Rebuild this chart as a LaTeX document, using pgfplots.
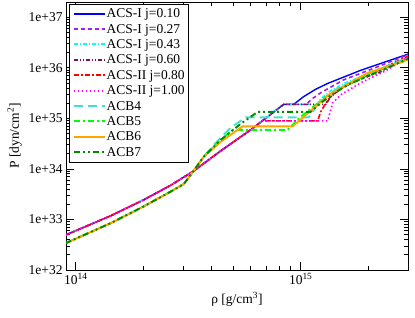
\documentclass[border=0pt]{standalone}
\usepackage{pgfplots}
\pgfplotsset{compat=1.18}
\usepackage{fontspec}
\setmainfont{Liberation Serif}
\definecolor{cBlue}{RGB}{0,0,255}
\definecolor{cViolet}{RGB}{160,32,240}
\definecolor{cCyan}{RGB}{0,255,255}
\definecolor{cMaroon}{RGB}{128,16,90}
\definecolor{cRed}{RGB}{255,0,0}
\definecolor{cMagenta}{RGB}{255,0,255}
\definecolor{cTurq}{RGB}{64,224,208}
\definecolor{cGreen}{RGB}{0,255,0}
\definecolor{cOrange}{RGB}{255,165,0}
\definecolor{cGreenFour}{RGB}{0,139,0}
\begin{document}
\begin{tikzpicture}
\begin{axis}[name=ax,
  xmode=log, ymode=log,
  scale only axis, width=342pt, height=268pt,
  xmin=9.05e13, xmax=3.0e15, ymin=1e32, ymax=2e37,
  xtick={1e14,1e15}, xticklabels={10\textsuperscript{14},10\textsuperscript{15}},
  ytick={1e32,1e33,1e34,1e35,1e36,1e37},
  yticklabels={1e+32,1e+33,1e+34,1e+35,1e+36,1e+37},
  minor xtick={2e14,3e14,4e14,5e14,6e14,7e14,8e14,9e14,2e15,3e15},
  minor ytick={2e32,3e32,4e32,5e32,6e32,7e32,8e32,9e32,2e33,3e33,4e33,5e33,6e33,7e33,8e33,9e33,2e34,3e34,4e34,5e34,6e34,7e34,8e34,9e34,2e35,3e35,4e35,5e35,6e35,7e35,8e35,9e35,2e36,3e36,4e36,5e36,6e36,7e36,8e36,9e36,2e37},
  tick align=inside, major tick length=8pt, minor tick length=4pt,
  every tick/.style={black, line width=0.7pt},
  axis line style={line width=0.9pt},
  tick label style={font=\fontsize{13.5}{14}\selectfont},
  label style={font=\fontsize{13.5}{14}\selectfont},
  xlabel={ρ [g/cm\textsuperscript{3}]},
  ylabel={P [dyn/cm\textsuperscript{2}]},
  legend cell align=left,
  legend style={at={(0.009,0.993)}, anchor=north west, line width=0.8pt,
    font=\fontsize{13.5}{14}\selectfont, row sep=0pt, inner xsep=3pt, inner ysep=2pt,
    nodes={inner sep=1pt, text height=10.4pt, text depth=3pt}},
  legend image code/.code={\draw[#1] (0pt,0.3pt) -- (31pt,0.3pt);},
  legend image post style={line width=2pt},
]
% ACS-I j=0.10
\addplot[draw=cBlue, line width=1.4pt] coordinates {
(9.0e13,4.9e32) (1.427e14,1.175e33) (2.0e14,2.43e33) (2.64e14,4.72e33) (3.34e14,9.06e33)
(4.41e14,2.27e34) (5.99e14,5.92e34) (8.40e14,1.89e35) (9.31e14,1.89e35)
(1.031e15,2.69e35) (1.166e15,3.76e35) (1.318e15,4.90e35) (1.849e15,8.91e35) (2.39e15,1.318e36) (3.0e15,1.86e36)};
\addlegendentry{ACS-I j=0.10}
% ACS-I j=0.27
\addplot[draw=cViolet, line width=1.6pt, dash pattern=on 4pt off 3pt] coordinates {
(9.0e13,4.9e32) (1.427e14,1.175e33) (2.0e14,2.43e33) (2.64e14,4.72e33) (3.34e14,9.06e33)
(4.41e14,2.27e34) (5.99e14,5.92e34) (8.40e14,1.89e35) (1.064e15,1.89e35)
(1.108e15,2.32e35) (1.227e15,3.20e35) (1.554e15,5.78e35) (2.20e15,1.047e36) (3.0e15,1.81e36)};
\addlegendentry{ACS-I j=0.27}
% ACS-I j=0.43
\addplot[draw=cCyan, line width=1.6pt, dash pattern=on 4pt off 2pt on 1pt off 2pt] coordinates {
(9.0e13,4.9e32) (1.427e14,1.175e33) (2.0e14,2.43e33) (2.64e14,4.72e33) (3.34e14,9.06e33)
(4.41e14,2.27e34) (5.99e14,5.92e34) (8.40e14,1.89e35) (1.179e15,1.89e35)
(1.227e15,2.43e35) (1.36e15,3.51e35) (1.585e15,5.05e35) (2.05e15,7.96e35) (3.0e15,1.65e36)};
\addlegendentry{ACS-I j=0.43}
% ACS-I j=0.60
\addplot[draw=cMaroon, line width=1.6pt, dash pattern=on 4pt off 2pt on 1pt off 2pt on 1pt off 2pt] coordinates {
(9.0e13,4.9e32) (1.427e14,1.175e33) (2.0e14,2.43e33) (2.64e14,4.72e33) (3.34e14,9.06e33)
(4.41e14,2.27e34) (5.99e14,5.92e34) (8.40e14,1.89e35) (1.292e15,1.89e35)
(1.36e15,2.67e35) (1.507e15,3.84e35) (1.757e15,5.53e35) (2.27e15,8.34e35) (3.0e15,1.58e36)};
\addlegendentry{ACS-I j=0.60}
% ACS-II j=0.80
\addplot[draw=cRed, line width=1.6pt, dash pattern=on 5pt off 2pt on 2pt off 2pt] coordinates {
(9.0e13,4.9e32) (1.427e14,1.175e33) (2.0e14,2.43e33) (2.64e14,4.72e33) (3.34e14,9.06e33)
(4.41e14,2.27e34) (5.99e14,5.92e34) (6.77e14,8.92e34) (1.19e15,8.92e34)
(1.227e15,1.345e35) (1.318e15,2.32e35) (1.461e15,3.67e35) (1.849e15,6.05e35) (3.0e15,1.70e36)};
\addlegendentry{ACS-II j=0.80}
% ACS-II j=1.00
\addplot[draw=cMagenta, line width=1.6pt, dash pattern=on 1.5pt off 2.5pt] coordinates {
(9.0e13,4.9e32) (1.427e14,1.175e33) (2.0e14,2.43e33) (2.64e14,4.72e33) (3.34e14,9.06e33)
(4.41e14,2.27e34) (5.99e14,5.92e34) (6.77e14,8.92e34) (1.318e15,8.92e34)
(1.388e15,2.03e35) (1.507e15,2.92e35) (1.849e15,5.05e35) (2.39e15,8.73e35) (3.0e15,1.65e36)};
\addlegendentry{ACS-II j=1.00}
% ACB4
\addplot[draw=cTurq, line width=1.9pt, dash pattern=on 9pt off 5pt] coordinates {
(9.0e13,3.38e32) (1.427e14,8.41e32) (2.0e14,1.80e33) (2.64e14,3.55e33) (3.02e14,5.01e33) (3.34e14,9.12e33) (3.70e14,1.73e34)
(4.19e14,3.27e34) (4.88e14,6.48e34) (5.69e14,1.047e35) (1.085e15,1.047e35)
(1.202e15,2.03e35) (1.431e15,3.67e35) (2.05e15,7.96e35) (3.0e15,1.58e36)};
\addlegendentry{ACB4}
% ACB5
\addplot[draw=cGreen, line width=1.9pt, dash pattern=on 6pt off 3pt on 2pt off 3pt] coordinates {
(9.0e13,3.38e32) (1.427e14,8.41e32) (2.0e14,1.80e33) (2.64e14,3.55e33) (3.02e14,5.01e33) (3.34e14,9.12e33) (3.70e14,1.73e34)
(4.32e14,3.43e34) (4.98e14,5.92e34) (8.75e14,5.92e34)
(1.0e15,1.07e35) (1.292e15,2.67e35) (1.946e15,7.26e35) (3.0e15,1.44e36)};
\addlegendentry{ACB5}
% ACB6
\addplot[draw=cOrange, line width=1.9pt] coordinates {
(9.0e13,3.38e32) (1.427e14,8.41e32) (2.0e14,1.80e33) (2.64e14,3.55e33) (3.02e14,5.01e33) (3.34e14,9.12e33) (3.70e14,1.73e34)
(4.41e14,3.43e34) (5.52e14,6.94e34) (9.21e14,6.94e34)
(1.108e15,1.408e35) (1.332e15,2.92e35) (1.987e15,7.96e35) (3.0e15,1.44e36)};
\addlegendentry{ACB6}
% ACB7
\addplot[draw=cGreenFour, line width=1.9pt, dash pattern=on 6pt off 3pt on 2pt off 3pt on 2pt off 3pt] coordinates {
(9.0e13,3.38e32) (1.427e14,8.41e32) (2.0e14,1.80e33) (2.64e14,3.55e33) (3.02e14,5.01e33) (3.34e14,9.12e33) (3.70e14,1.73e34)
(4.41e14,3.75e34) (5.41e14,7.78e34) (6.44e14,1.345e35) (1.108e15,1.345e35)
(1.202e15,1.85e35) (1.332e15,2.67e35) (1.618e15,4.61e35) (2.27e15,8.73e35) (3.0e15,1.51e36)};
\addlegendentry{ACB7}
\end{axis}
\pgfresetboundingbox
\path (ax.south west) ++(-66pt,-47pt) rectangle ++(415pt,317pt);
\end{tikzpicture}
\end{document}
